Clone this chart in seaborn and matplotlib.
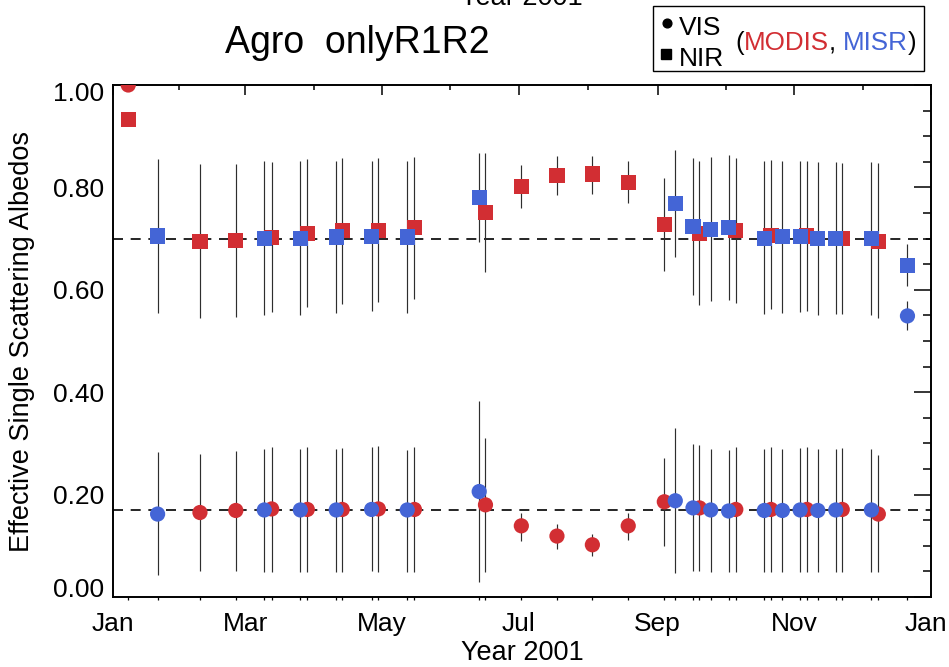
import numpy as np
import pandas as pd
import matplotlib
matplotlib.use("Agg")
import matplotlib.pyplot as plt
import seaborn as sns
from matplotlib.lines import Line2D
from matplotlib.patches import Rectangle
from matplotlib.transforms import ScaledTranslation

# ---------------- data (day of year 2001, 0 = Jan 1) ----------------
modis_day = [6.8, 38.8, 54.8, 70.8, 86.7, 102.3, 118.4, 134.5, 166.2, 182.2,
             198.1, 213.9, 229.9, 246.0, 261.7, 277.9, 293.6, 309.6, 325.4, 341.5]
modis_vis = [1.0, 0.165, 0.169, 0.172, 0.171, 0.171, 0.172, 0.171, 0.180, 0.139,
             0.119, 0.102, 0.139, 0.186, 0.174, 0.171, 0.171, 0.171, 0.171, 0.162]
modis_vis_lo = [np.nan, 0.051, 0.051, 0.049, 0.049, 0.049, 0.049, 0.049, 0.049, 0.110,
                0.094, 0.081, 0.111, 0.100, 0.050, 0.049, 0.049, 0.049, 0.049, 0.048]
modis_vis_hi = [np.nan, 0.279, 0.286, 0.292, 0.292, 0.291, 0.294, 0.292, 0.311, 0.165,
                0.142, 0.123, 0.165, 0.271, 0.296, 0.292, 0.292, 0.292, 0.291, 0.277]
modis_nir = [0.932, 0.695, 0.697, 0.702, 0.710, 0.716, 0.716, 0.722, 0.751, 0.802,
             0.824, 0.826, 0.810, 0.728, 0.710, 0.716, 0.706, 0.705, 0.700, 0.695]
modis_nir_lo = [np.nan, 0.545, 0.547, 0.556, 0.567, 0.573, 0.576, 0.583, 0.635, 0.759,
                0.785, 0.787, 0.769, 0.637, 0.570, 0.575, 0.562, 0.559, 0.553, 0.544]
modis_nir_hi = [np.nan, 0.846, 0.846, 0.850, 0.855, 0.857, 0.857, 0.860, 0.867, 0.844,
                0.862, 0.862, 0.852, 0.818, 0.852, 0.857, 0.853, 0.851, 0.848, 0.847]

misr_day = [19.9, 67.5, 83.6, 99.6, 115.4, 131.3, 163.4, 250.9, 258.8, 266.7,
            274.7, 290.6, 298.7, 306.6, 314.5, 322.5, 338.4, 354.5]
misr_vis = [0.162, 0.170, 0.170, 0.170, 0.171, 0.170, 0.206, 0.188, 0.174, 0.170,
            0.168, 0.169, 0.169, 0.170, 0.169, 0.170, 0.170, 0.549]
misr_vis_lo = [0.043, 0.049, 0.049, 0.049, 0.050, 0.049, 0.029, 0.046, 0.050, 0.048,
               0.048, 0.049, 0.049, 0.049, 0.049, 0.049, 0.049, 0.521]
misr_vis_hi = [0.283, 0.290, 0.289, 0.290, 0.292, 0.288, 0.382, 0.330, 0.298, 0.290,
               0.288, 0.289, 0.289, 0.291, 0.289, 0.290, 0.290, 0.578]
misr_nir = [0.705, 0.700, 0.700, 0.703, 0.704, 0.703, 0.781, 0.769, 0.724, 0.718,
            0.722, 0.700, 0.704, 0.704, 0.700, 0.700, 0.700, 0.648]
misr_nir_lo = [0.554, 0.551, 0.551, 0.555, 0.558, 0.554, 0.694, 0.665, 0.589, 0.578,
               0.580, 0.552, 0.555, 0.556, 0.551, 0.552, 0.550, 0.607]
misr_nir_hi = [0.855, 0.851, 0.851, 0.852, 0.852, 0.852, 0.867, 0.873, 0.857, 0.859,
               0.863, 0.851, 0.852, 0.851, 0.850, 0.850, 0.850, 0.689]

ref_lines = [0.70, 0.17]

month_ticks = [0, 59, 120, 181, 243, 304, 365]
month_labels = ["Jan", "Mar", "May", "Jul", "Sep", "Nov", "Jan"]
month_minor = [29.5, 89.5, 150.5, 212, 273.5, 334.5]

title_text = "Agro  onlyR1R2"
xlabel_text = "Year 2001"
ylabel_text = "Effective Single Scattering Albedos"

RED = "#D22E33"
BLUE = "#4465D6"

# ---------------- tidy table ----------------
def block(sensor, band, day, val, lo, hi):
    return pd.DataFrame({"day": day, "value": val, "lo": lo, "hi": hi,
                         "sensor": sensor, "band": band})

df = pd.concat([
    block("MODIS", "VIS", modis_day, modis_vis, modis_vis_lo, modis_vis_hi),
    block("MODIS", "NIR", modis_day, modis_nir, modis_nir_lo, modis_nir_hi),
    block("MISR", "VIS", misr_day, misr_vis, misr_vis_lo, misr_vis_hi),
    block("MISR", "NIR", misr_day, misr_nir, misr_nir_lo, misr_nir_hi),
], ignore_index=True)

# ---------------- figure ----------------
sns.set_theme(style="white")
plt.rcParams["font.family"] = ["Liberation Sans", "DejaVu Sans"]

fig = plt.figure(figsize=(9.49, 6.67), dpi=100)
ax = fig.add_axes([113 / 949, 70 / 667, 818 / 949, 512 / 667])

# error bars
eb = df.dropna(subset=["lo", "hi"])
ax.vlines(eb["day"], eb["lo"], eb["hi"], colors="#2e2e2e", linewidth=0.85, zorder=2)

# reference dashed lines
for yv in ref_lines:
    ax.axhline(yv, color="black", linewidth=1.2, dashes=(6.0, 4.6), zorder=1)

sns.scatterplot(data=df, x="day", y="value", hue="sensor", style="band",
                palette={"MODIS": RED, "MISR": BLUE},
                markers={"VIS": "o", "NIR": "s"}, s=120, linewidth=0,
                alpha=1, legend=False, ax=ax, zorder=3, clip_on=True)

# tiny marks along the bottom axis at each observation date
all_days = sorted(set(modis_day) | set(misr_day))
ax.vlines(all_days, -0.006, 0, colors="black", linewidth=0.9, clip_on=False)

ax.set_xlim(0, 365)
ax.set_ylim(0, 1)
ax.set_xticks(month_ticks)
ax.set_xticklabels(month_labels)
ax.set_xticks(month_minor, minor=True)
yt = np.round(np.arange(0, 1.001, 0.2), 2)
ax.set_yticks(yt)
ax.set_yticklabels([f"{v:.2f}" for v in yt])
ax.set_yticks(np.round(np.arange(0, 1.001, 0.05), 2), minor=True)

ax.tick_params(which="both", direction="in", top=True, right=True,
               width=1.1, color="black", labelcolor="black", labelsize=19)
ax.tick_params(axis="x", which="major", length=7.2, pad=24.5)
ax.tick_params(axis="x", which="minor", length=3.6)
ax.tick_params(axis="y", which="major", length=12, pad=6.5)
ax.tick_params(axis="y", which="minor", length=6)

for sp in ax.spines.values():
    sp.set_linewidth(1.4)
    sp.set_color("black")

# x labels share one baseline; last one kept inside the figure
xticks = ax.xaxis.get_major_ticks()
for t in xticks:
    t.label1.set_va("baseline")
xticks[-1].label1.set_transform(xticks[-1].label1.get_transform()
                                + ScaledTranslation(-5 / 100, 0, fig.dpi_scale_trans))

# keep top / bottom y labels inside the axis span
yticks = ax.yaxis.get_major_ticks()
yticks[-1].label1.set_va("top")
yticks[-1].label1.set_transform(yticks[-1].label1.get_transform()
                                + ScaledTranslation(0, 3 / 100, fig.dpi_scale_trans))
yticks[0].label1.set_va("baseline")

ax.set_xlabel(xlabel_text, fontsize=19.5, color="black")
ax.xaxis.label.set_va("baseline")
ax.xaxis.set_label_coords(0.5, (597 - 660) / 512)
ax.set_ylabel(ylabel_text, fontsize=19.5, color="black")
ax.yaxis.label.set_va("center")
ax.yaxis.set_label_coords((22 - 113) / 818, 0.5)

# title and the clipped top axis caption
fig.text(357 / 949, 1 - 53 / 667, title_text, fontsize=27, ha="center",
         va="baseline", color="black")
fig.text(521 / 949, 1 - 5 / 667, xlabel_text, fontsize=19.5, ha="center",
         va="baseline", color="black")

# legend box
fig.add_artist(Rectangle((653 / 949, 1 - 71 / 667), 271 / 949, 65 / 667,
                         transform=fig.transFigure, fill=False,
                         edgecolor="black", linewidth=1.0))
fig.add_artist(Line2D([667 / 949], [1 - 23 / 667], marker="o", markersize=6.3,
                      color="black", linestyle="none", transform=fig.transFigure))
fig.add_artist(Line2D([666 / 949], [1 - 54 / 667], marker="s", markersize=7.0,
                      color="black", linestyle="none", transform=fig.transFigure))
fig.text(679 / 949, 1 - 35 / 667, "VIS", fontsize=19, va="baseline", color="black")
fig.text(679 / 949, 1 - 66 / 667, "NIR", fontsize=19, va="baseline", color="black")

pieces = [("(", "black"), ("MODIS", RED), (", ", "black"), ("MISR", BLUE), (")", "black")]
prev = fig.text(735 / 949, 1 - 50 / 667, pieces[0][0], fontsize=18.7,
                va="baseline", color=pieces[0][1])
for txt, col in pieces[1:]:
    prev = ax.annotate(txt, xy=(1, 0), xycoords=prev, ha="left", va="bottom",
                       fontsize=18.7, color=col, annotation_clip=False)

fig.savefig("out.png", dpi=100)
